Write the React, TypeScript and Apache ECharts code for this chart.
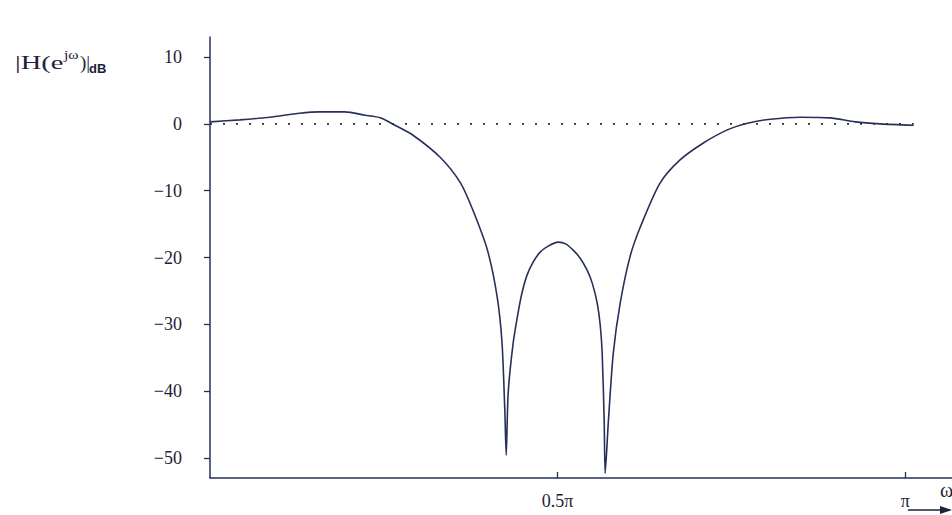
import React, { useEffect, useRef } from "react";
import * as echarts from "echarts";

// frequency in units of π
const omega = [
  0, 0.043, 0.086, 0.129, 0.158, 0.194, 0.223, 0.245, 0.266, 0.292, 0.331, 0.36, 0.378,
  0.399, 0.413, 0.42, 0.424, 0.426, 0.4288, 0.436, 0.4432, 0.4489, 0.4561, 0.4647, 0.4748,
  0.4863, 0.5007, 0.5122, 0.5223, 0.5324, 0.5424, 0.5496, 0.5568, 0.5612, 0.564, 0.5669, 0.5683,
  0.573, 0.58, 0.59, 0.604, 0.619, 0.647, 0.676, 0.709, 0.744, 0.773, 0.806, 0.849, 0.892,
  0.928, 0.964, 1.012,
];
// |H(e^jω)| in dB
const magnitudeDb = [
  0.3, 0.6, 1.0, 1.6, 1.8, 1.8, 1.3, 0.9, -0.2, -1.7, -5.0, -8.8, -12.9,
  -18.9, -25.9, -32.8, -42.9, -49.6, -40.3, -32.8, -28.2, -25.2, -22.6, -20.7, -19.2,
  -18.3, -17.7, -18.0, -18.9, -20.1, -21.9, -23.8, -26.8, -30.1, -34.3, -44.4, -52.3,
  -44.4, -34.3, -26.8, -19.9, -15.4, -8.9, -5.4, -2.9, -0.9, 0.1, 0.7, 1.0, 0.9,
  0.3, 0.0, -0.2,
];
const zeroLineX = [0, 1.012];
const zeroLineY = [0, 0];
const yTickValues = [10, 0, -10, -20, -30, -40, -50];
const xTickValues = [0.5, 1];
const xTickLabels = ["0.5π", "π"];

const INK = "#27305a";
const TEXT = "#1e2238";
const SERIF = "Liberation Serif";

export default function App() {
  const ref = useRef<HTMLDivElement>(null);
  useEffect(() => {
    if (!ref.current) return;
    const chart = echarts.init(ref.current, null, { renderer: "svg" });
    const curve = omega.map((w, i) => [w, magnitudeDb[i]]);
    const zero = zeroLineX.map((w, i) => [w, zeroLineY[i]]);
    chart.setOption({
      animation: false,
      backgroundColor: "#ffffff",
      grid: { left: 210, top: 37, width: 744, height: 441, containLabel: false, outerBoundsMode: "none" },
      xAxis: {
        type: "value",
        min: 0,
        max: 1.07,
        axisLine: { show: true, onZero: false, lineStyle: { color: INK, width: 1.5 } },
        axisTick: { show: true, inside: true, length: 6, customValues: xTickValues, lineStyle: { color: INK, width: 1.3 } },
        axisLabel: {
          show: true,
          customValues: xTickValues,
          margin: 14,
          fontFamily: SERIF,
          fontSize: 18,
          color: TEXT,
          formatter: (v: number) => {
            const i = xTickValues.findIndex((t) => Math.abs(t - v) < 1e-6);
            return i >= 0 ? xTickLabels[i] : "";
          },
        },
        splitLine: { show: false },
      },
      yAxis: {
        type: "value",
        min: -53,
        max: 13,
        axisLine: { show: true, onZero: false, lineStyle: { color: INK, width: 1.5 } },
        axisTick: { show: true, length: 6, customValues: yTickValues, lineStyle: { color: INK, width: 1.3 } },
        axisLabel: {
          show: true,
          customValues: yTickValues,
          margin: 28,
          fontFamily: SERIF,
          fontSize: 18,
          color: TEXT,
          formatter: (v: number) => (v < 0 ? "−" + Math.abs(v) : String(v)),
        },
        splitLine: { show: false },
      },
      series: [
        {
          type: "line",
          data: zero,
          showSymbol: false,
          silent: true,
          z: 1,
          lineStyle: { color: "#2b2f45", width: 1.6, type: [2, 11] },
        },
        {
          type: "line",
          data: curve,
          showSymbol: false,
          smooth: 0.25,
          z: 2,
          lineStyle: { color: INK, width: 1.6 },
        },
      ],
      graphic: [
        { type: "text", x: 15, y: 53, scaleX: 1.5, style: { text: "|H(e", font: `19px ${SERIF}`, fill: TEXT, verticalAlign: "top" } },
        { type: "text", x: 64, y: 48, scaleX: 1.2, style: { text: "jω", font: `13px ${SERIF}`, fill: TEXT, verticalAlign: "top" } },
        { type: "text", x: 80, y: 53, style: { text: ")|", font: `19px ${SERIF}`, fill: TEXT, verticalAlign: "top" } },
        { type: "text", x: 89, y: 62, style: { text: "dB", font: `bold 13px 'Liberation Sans', Arial, sans-serif`, fill: TEXT, verticalAlign: "top" } },
        { type: "text", x: 940, y: 480, style: { text: "ω", font: `20px ${SERIF}`, fill: TEXT, verticalAlign: "top" } },
        { type: "line", shape: { x1: 908, y1: 510, x2: 950, y2: 510 }, style: { stroke: TEXT, lineWidth: 1.6 } },
        { type: "polygon", shape: { points: [[952, 510], [940, 506], [940, 514]] }, style: { fill: TEXT } },
      ],
    });
    return () => chart.dispose();
  }, []);
  return (
    <div
      ref={ref}
      style={{ position: "fixed", left: 0, top: 0, width: 952, height: 515, background: "#fff" }}
    />
  );
}
